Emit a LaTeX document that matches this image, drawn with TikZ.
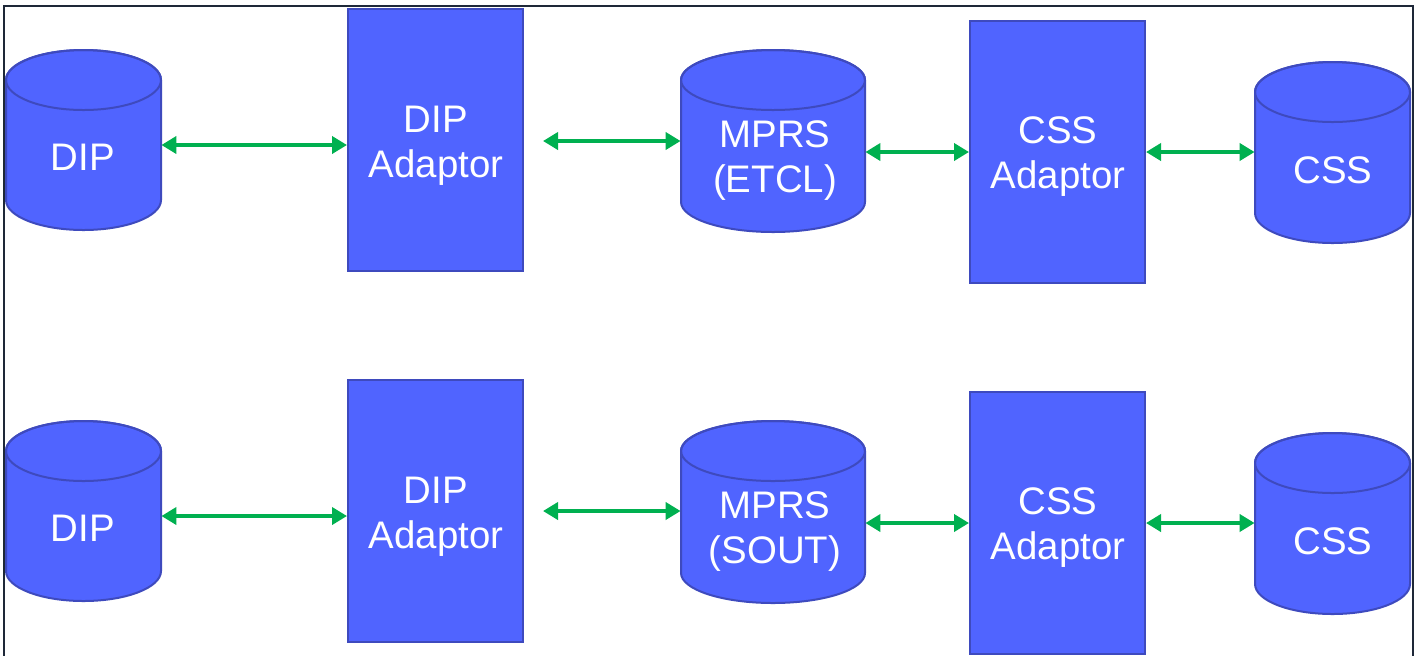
\documentclass[tikz,border=0pt]{standalone}
\usepackage{fontspec}
\setmainfont{Liberation Sans}
\usetikzlibrary{arrows.meta}
\definecolor{boxfill}{RGB}{80,100,255}
\definecolor{boxline}{RGB}{62,74,190}
\definecolor{arrgreen}{RGB}{0,176,80}
\definecolor{framecol}{RGB}{30,40,56}
\tikzset{
  adaptor/.style={draw=boxline, fill=boxfill, line width=1pt, inner sep=0pt},
  holder/.style={inner sep=0pt},
  lbl/.style={text=white, font=\fontsize{19.2}{22.5}\selectfont, align=center, inner sep=0pt},
  link/.style={draw=arrgreen, line width=2.3pt, {Triangle[length=7.5pt,width=8.5pt]}-{Triangle[length=7.5pt,width=8.5pt]}},
  cylpath/.style={draw=boxline, fill=boxfill, line width=1pt}
}
% \mycyl{name}{left}{right}{top}{bottom}  (pixel coords, y downward)
\newcommand{\mycyl}[5]{%
  \pgfmathsetmacro{\cx}{(#2+#3)/2}%
  \pgfmathsetmacro{\rx}{(#3-#2)/2}%
  \pgfmathsetmacro{\yt}{#4+30}%
  \pgfmathsetmacro{\yb}{#5-30}%
  \pgfmathsetmacro{\cy}{(#4+#5)/2}%
  \pgfmathsetmacro{\ww}{#3-#2}%
  \pgfmathsetmacro{\hh}{#5-#4}%
  \path[cylpath] (#2,-\yt) -- (#2,-\yb) arc[start angle=180,end angle=360,x radius=\rx,y radius=30]
     -- (#3,-\yt) arc[start angle=0,end angle=180,x radius=\rx,y radius=30] -- cycle;
  \draw[boxline, line width=1pt] (\cx,-\yt) ellipse[x radius=\rx, y radius=30];
  \node[holder, minimum width=\ww*0.5pt, minimum height=\hh*0.5pt] (#1) at (\cx,-\cy) {};
}
\begin{document}
\begin{tikzpicture}[x=0.5pt,y=0.5pt]
\useasboundingbox (0,0) rectangle (1422,-655);
\fill[white] (0,0) rectangle (1422,-655);
\draw[framecol, line width=1.2pt] (4,-700) -- (4,-6) -- (1413,-6) -- (1413,-700);

% ---------- top row ----------
\mycyl{dipA}{6}{161}{50}{230}
\node[adaptor, minimum width=87.5pt, minimum height=131pt] (dipadA) at (435.5,-140) {};
\mycyl{mprsA}{681}{865}{50}{232}
\node[adaptor, minimum width=87.5pt, minimum height=131pt] (cssadA) at (1057.5,-152) {};
\mycyl{cssA}{1255}{1410}{62}{243}

\node[lbl] (tDipA) at (83,-157) {DIP};
\node[lbl] (tDipAdA) at (436,-146) {DIP\\Adaptor};
\node[lbl] (tMprsA) at (775,-161) {MPRS\\(ETCL)};
\node[lbl] (tCssAdA) at (1058,-157) {CSS\\Adaptor};
\node[lbl] (tCssA) at (1333,-170) {CSS};

\draw[link] (dipA.east |- 0,-145) -- (dipadA.west |- 0,-145);
\draw[link, shorten <=19pt*0.5] (dipadA.east |- 0,-141) -- (mprsA.west |- 0,-141);
\draw[link] (mprsA.east |- 0,-152) -- (cssadA.west |- 0,-152);
\draw[link] (cssadA.east |- 0,-152) -- (cssA.west |- 0,-152);

% ---------- bottom row ----------
\mycyl{dipB}{6}{161}{421}{601}
\node[adaptor, minimum width=87.5pt, minimum height=131pt] (dipadB) at (435.5,-511) {};
\mycyl{mprsB}{681}{865}{421}{603}
\node[adaptor, minimum width=87.5pt, minimum height=131pt] (cssadB) at (1057.5,-523) {};
\mycyl{cssB}{1255}{1410}{433}{614}

\node[lbl] (tDipB) at (83,-528) {DIP};
\node[lbl] (tDipAdB) at (436,-517) {DIP\\Adaptor};
\node[lbl] (tMprsB) at (775,-532) {MPRS\\(SOUT)};
\node[lbl] (tCssAdB) at (1058,-528) {CSS\\Adaptor};
\node[lbl] (tCssB) at (1333,-541) {CSS};

\draw[link] (dipB.east |- 0,-516) -- (dipadB.west |- 0,-516);
\draw[link, shorten <=19pt*0.5] (dipadB.east |- 0,-511) -- (mprsB.west |- 0,-511);
\draw[link] (mprsB.east |- 0,-523) -- (cssadB.west |- 0,-523);
\draw[link] (cssadB.east |- 0,-523) -- (cssB.west |- 0,-523);
\end{tikzpicture}
\end{document}
